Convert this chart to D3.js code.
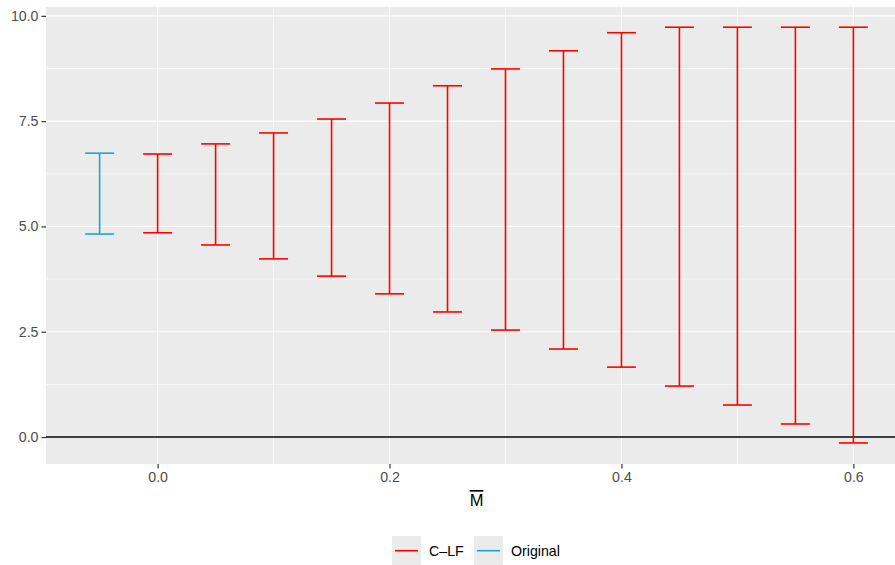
<!DOCTYPE html>
<html><head><meta charset="utf-8">
<script src="https://cdn.jsdelivr.net/npm/d3@7"></script>
<style>body{margin:0;background:#fff;} text{font-family:"Liberation Sans",Arial,sans-serif;}</style>
</head><body>
<svg id="c" width="895" height="565"></svg>
<script>
const origX = [-0.05];
const origLower = [4.82];
const origUpper = [6.74];
const clfX = [0.0, 0.05, 0.1, 0.15, 0.2, 0.25, 0.3, 0.35, 0.4, 0.45, 0.5, 0.55, 0.6];
const clfLower = [4.85, 4.56, 4.23, 3.82, 3.40, 2.97, 2.54, 2.09, 1.66, 1.21, 0.76, 0.31, -0.14];
const clfUpper = [6.72, 6.96, 7.22, 7.55, 7.93, 8.34, 8.74, 9.17, 9.60, 9.73, 9.73, 9.73, 9.73];
const xTicks = [0.0, 0.2, 0.4, 0.6];
const xMinor = [-0.1, 0.1, 0.3, 0.5];
const yTicks = [0.0, 2.5, 5.0, 7.5, 10.0];
const yMinor = [1.25, 3.75, 6.25, 8.75];
const seriesNames = ["C\u2013LF", "Original"];
const seriesColors = ["#FF0000", "#1BA3D9"];

const svg = d3.select("#c");
const P = {l:46, r:907, t:7, b:464};
const x = d3.scaleLinear().domain([-0.09625, 0.64625]).range([P.l, P.r]);
const y = d3.scaleLinear().domain([-0.64, 10.21]).range([P.b, P.t]);

svg.append("rect").attr("x",P.l).attr("y",P.t).attr("width",P.r-P.l).attr("height",P.b-P.t).attr("fill","#EBEBEB");
const g = svg.append("g");
g.selectAll(".ymn").data(yMinor).join("line").attr("x1",P.l).attr("x2",P.r).attr("y1",d=>y(d)).attr("y2",d=>y(d)).attr("stroke","#fff").attr("stroke-width",0.6);
g.selectAll(".xmn").data(xMinor).join("line").attr("y1",P.t).attr("y2",P.b).attr("x1",d=>x(d)).attr("x2",d=>x(d)).attr("stroke","#fff").attr("stroke-width",0.6);
g.selectAll(".ymj").data(yTicks).join("line").attr("x1",P.l).attr("x2",P.r).attr("y1",d=>y(d)).attr("y2",d=>y(d)).attr("stroke","#fff").attr("stroke-width",1.2);
g.selectAll(".xmj").data(xTicks).join("line").attr("y1",P.t).attr("y2",P.b).attr("x1",d=>x(d)).attr("x2",d=>x(d)).attr("stroke","#fff").attr("stroke-width",1.2);

// zero line
svg.append("line").attr("x1",P.l).attr("x2",P.r).attr("y1",y(0)).attr("y2",y(0)).attr("stroke","#000").attr("stroke-width",1.6);

function errorbars(xs, lo, hi, col){
  const hw = 0.0125;
  const gg = svg.append("g").attr("stroke",col).attr("stroke-width",1.6).attr("fill","none");
  xs.forEach((v,i)=>{
    gg.append("line").attr("x1",x(v)).attr("x2",x(v)).attr("y1",y(lo[i])).attr("y2",y(hi[i]));
    gg.append("line").attr("x1",x(v-hw)).attr("x2",x(v+hw)).attr("y1",y(lo[i])).attr("y2",y(lo[i]));
    gg.append("line").attr("x1",x(v-hw)).attr("x2",x(v+hw)).attr("y1",y(hi[i])).attr("y2",y(hi[i]));
  });
}
errorbars(clfX, clfLower, clfUpper, seriesColors[0]);
errorbars(origX, origLower, origUpper, seriesColors[1]);

// axes
const xa = svg.append("g").attr("transform",`translate(0,${P.b})`)
  .call(d3.axisBottom(x).tickValues(xTicks).tickFormat(d3.format(".1f")).tickSize(4.5).tickPadding(3));
const ya = svg.append("g").attr("transform",`translate(${P.l},0)`)
  .call(d3.axisLeft(y).tickValues(yTicks).tickFormat(d3.format(".1f")).tickSize(4.5).tickPadding(3));
[xa,ya].forEach(a=>{
  a.select(".domain").remove();
  a.selectAll(".tick line").attr("stroke","#333").attr("stroke-width",1.2);
  a.selectAll(".tick text").attr("fill","#4D4D4D").style("font-size","14.2px");
});

// x title with overline
svg.append("text").attr("x", x(0.275)).attr("y",506).attr("text-anchor","middle")
  .style("font-size","16.5px").style("text-decoration","overline").attr("fill","#000").text("M");

// legend
const lg = svg.append("g");
const keyX = [392, 474];
const labX = [429, 511];
seriesNames.forEach((n,i)=>{
  lg.append("rect").attr("x",keyX[i]).attr("y",536).attr("width",29).attr("height",29).attr("fill","#EBEBEB");
  lg.append("line").attr("x1",keyX[i]+3).attr("x2",keyX[i]+26).attr("y1",550.7).attr("y2",550.7).attr("stroke",seriesColors[i]).attr("stroke-width",1.6);
  lg.append("text").attr("x",labX[i]).attr("y",556).style("font-size","14.2px").attr("fill","#000").text(n);
});
</script>
</body></html>
